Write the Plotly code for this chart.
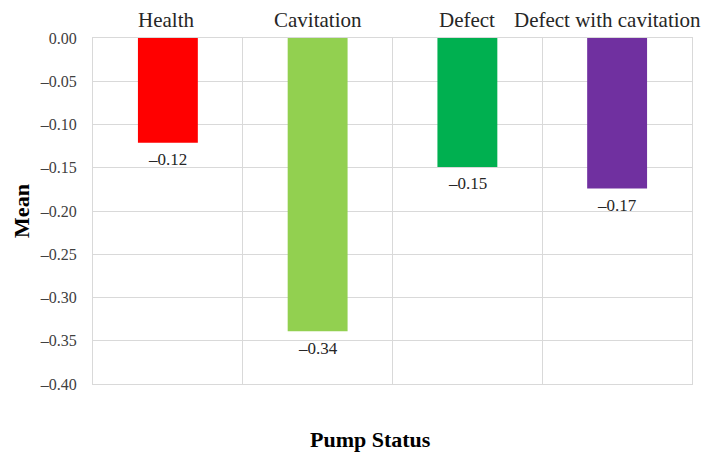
import plotly.graph_objects as go

categories = ["Health", "Cavitation", "Defect", "Defect with cavitation"]
means = [-0.121, -0.339, -0.149, -0.174]
labels = ["\u20130.12", "\u20130.34", "\u20130.15", "\u20130.17"]
colors = ["#ff0000", "#92d050", "#00b050", "#7030a0"]
ytick_vals = [0, -0.05, -0.10, -0.15, -0.20, -0.25, -0.30, -0.35, -0.40]
ytick_text = ["0.00"] + ["\u2013%.2f" % abs(v) for v in ytick_vals[1:]]
label_shift = [-2, 0, 0, -10]

font_family = "Liberation Serif, Times New Roman, serif"

fig = go.Figure(go.Bar(
    x=categories, y=means, width=0.4,
    marker=dict(color=colors, line=dict(width=0)),
))

for cat, val, lab in zip(categories, means, labels):
    fig.add_annotation(
        text=lab, xref="x", yref="y", x=cat, y=val, yshift=-17,
        xanchor="center", yanchor="middle", showarrow=False,
        font=dict(family=font_family, size=17, color="#262626"),
    )

for cat, dx in zip(categories, label_shift):
    fig.add_annotation(
        text=cat, xref="x", yref="paper", x=cat, y=1.0, yshift=18,
        xanchor="center", yanchor="middle", xshift=dx, showarrow=False,
        font=dict(family=font_family, size=21, color="#262626"),
    )

fig.update_layout(
    width=703, height=452,
    margin=dict(l=93, r=11, t=38, b=68),
    plot_bgcolor="white", paper_bgcolor="white",
    showlegend=False,
    font=dict(family=font_family, color="#262626"),
    xaxis=dict(
        side="top", type="category", tickson="boundaries",
        showticklabels=False,
        showgrid=True, gridcolor="#d9d9d9", gridwidth=1,
        ticks="", ticklen=0, automargin=False,
        showline=True, linecolor="#d9d9d9", mirror=True,
        range=[-0.5, 3.5],
    ),
    yaxis=dict(
        range=[-0.40, 0], tickvals=ytick_vals, ticktext=ytick_text,
        showgrid=True, gridcolor="#d9d9d9", gridwidth=1,
        zeroline=False, automargin=False,
        tickfont=dict(size=16, color="#404040"),
        showline=True, linecolor="#d9d9d9", mirror=True,
        ticks="", ticklabelstandoff=12,
        title=dict(text="<b>Mean</b>", font=dict(size=22, color="#000000"), standoff=4),
    ),
)

fig.add_annotation(
    text="<b>Pump Status</b>", xref="paper", yref="paper",
    x=0.464, y=-0.16, yanchor="middle", xanchor="center", showarrow=False,
    font=dict(family=font_family, size=22, color="#000000"),
)

fig.write_html("out.html")
